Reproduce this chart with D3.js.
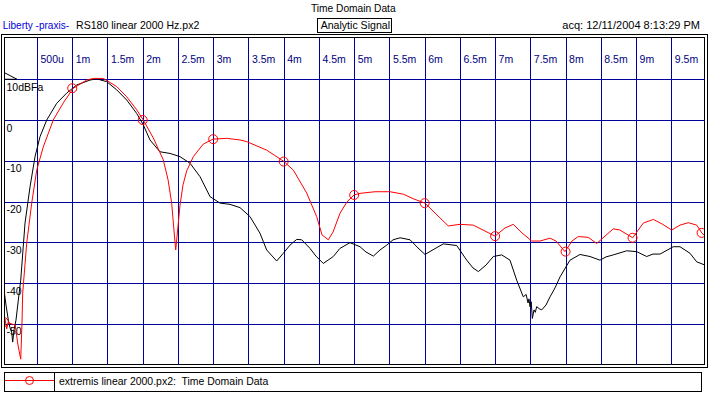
<!DOCTYPE html>
<html>
<head>
<meta charset="utf-8">
<script src="https://cdn.jsdelivr.net/npm/d3@7"></script>
<style>
  html, body { margin: 0; padding: 0; background: #ffffff; }
  svg { display: block; }
  text { font-family: "Liberation Sans", Arial, sans-serif; white-space: pre; }
</style>
</head>
<body>
<svg id="chart" width="709" height="395"></svg>
<script>
// ---------------- DATA ----------------
const xTickValues = [0.5, 1, 1.5, 2, 2.5, 3, 3.5, 4, 4.5, 5, 5.5, 6, 6.5, 7, 7.5, 8, 8.5, 9, 9.5];
const xTickLabels = ["500u", "1m", "1.5m", "2m", "2.5m", "3m", "3.5m", "4m", "4.5m", "5m", "5.5m", "6m", "6.5m", "7m", "7.5m", "8m", "8.5m", "9m", "9.5m"];
const yTickValues = [10, 0, -10, -20, -30, -40, -50];
const yTickLabels = ["10dBFa", "0", "-10", "-20", "-30", "-40", "-50"];

// red: extremis linear 2000.px2 (time in ms, level in dB)
const redT  = [0.022, 0.046, 0.070, 0.093, 0.13, 0.19, 0.23, 0.269, 0.287, 0.297, 0.354, 0.425, 0.496, 0.589, 0.731, 0.873, 1.015, 1.205, 1.299, 1.441, 1.631, 1.773, 1.915, 2.008, 2.150, 2.292, 2.36, 2.411, 2.437, 2.468, 2.493, 2.529, 2.572, 2.624, 2.718, 2.860, 2.997, 3.191, 3.380, 3.475, 3.759, 4.005, 4.137, 4.326, 4.468, 4.544, 4.633, 4.700, 4.799, 4.898, 4.998, 5.083, 5.296, 5.508, 5.697, 5.849, 6.005, 6.175, 6.336, 6.502, 6.690, 6.828, 6.998, 7.140, 7.258, 7.381, 7.519, 7.637, 7.779, 7.864, 7.991, 8.091, 8.180, 8.322, 8.441, 8.559, 8.677, 8.770, 8.952, 9.102, 9.244, 9.368, 9.505, 9.623, 9.741, 9.861, 9.932, 9.98];
const redDb = [-49.9, -48.8, -51.3, -49.6, -50.0, -50.3, -55.2, -58.7, -49.8, -42.5, -30.2, -20.4, -12.3, -6.6, 0.0, 4.2, 7.8, 9.8, 10.2, 10.2, 8.2, 5.7, 2.5, 0.0, -4.4, -9.8, -14.7, -20.4, -25.8, -31.9, -27.5, -20.9, -15.9, -12.5, -9.0, -5.9, -4.7, -4.5, -4.9, -5.3, -7.4, -10.2, -12.3, -17.9, -23.7, -28.2, -29.4, -27.5, -22.9, -20.1, -18.4, -18.0, -17.6, -17.6, -18.2, -19.4, -20.4, -23.3, -26.0, -25.6, -25.8, -27.0, -28.5, -26.5, -25.6, -27.7, -29.7, -29.7, -29.0, -29.7, -32.3, -29.7, -28.6, -28.8, -30.3, -28.5, -26.7, -27.0, -28.9, -25.3, -24.4, -25.5, -27.0, -25.8, -25.2, -25.8, -27.7, -28.5];
const redMarkT  = [0.03, 1.0, 2.0, 3.0, 4.0, 5.0, 6.0, 7.0, 8.0, 8.95, 9.93];
const redMarkDb = [-49.6, 7.8, 0.0, -4.7, -10.2, -18.4, -20.4, -28.5, -32.3, -28.9, -27.7];

// black: RS180 linear 2000 Hz.px2
const blackT  = [0.032, 0.06, 0.093, 0.117, 0.141, 0.155, 0.174, 0.202, 0.235, 0.269, 0.283, 0.330, 0.401, 0.472, 0.543, 0.638, 0.780, 0.921, 1.063, 1.252, 1.347, 1.489, 1.631, 1.773, 1.915, 2.008, 2.103, 2.245, 2.387, 2.529, 2.671, 2.813, 2.955, 3.097, 3.238, 3.380, 3.522, 3.664, 3.759, 3.901, 3.995, 4.09, 4.185, 4.256, 4.373, 4.458, 4.562, 4.704, 4.799, 4.941, 5.083, 5.168, 5.272, 5.367, 5.462, 5.552, 5.651, 5.793, 5.906, 6.005, 6.133, 6.265, 6.455, 6.597, 6.686, 6.762, 6.871, 6.975, 7.094, 7.211, 7.306, 7.400, 7.440, 7.467, 7.480, 7.495, 7.512, 7.528, 7.552, 7.570, 7.590, 7.625, 7.661, 7.722, 7.779, 7.850, 7.921, 8.062, 8.204, 8.346, 8.488, 8.573, 8.677, 8.867, 9.008, 9.150, 9.24, 9.340, 9.528, 9.623, 9.765, 9.860, 9.978];
const blackDb = [-41.7, -45.4, -49.1, -51.0, -52.0, -54.5, -51.5, -49.1, -44.2, -39.3, -36.1, -25.3, -16.4, -9.0, -4.1, 0.0, 4.1, 6.6, 8.6, 9.8, 10.1, 9.4, 7.4, 4.9, 1.6, -1.2, -4.9, -7.8, -8.2, -9.0, -10.6, -13.9, -18.8, -20.4, -20.7, -21.5, -23.7, -27.8, -31.9, -34.6, -32.7, -30.7, -29.3, -29.4, -31.5, -33.4, -35.2, -33.5, -31.5, -30.1, -31.1, -32.4, -33.4, -31.9, -30.7, -29.4, -28.9, -29.4, -31.4, -33.0, -31.7, -30.4, -30.8, -34.4, -36.3, -37.2, -35.6, -33.5, -33.1, -34.4, -39.3, -43.4, -42.8, -44.9, -43.9, -45.8, -44.6, -48.7, -46.6, -47.2, -45.8, -46.3, -46.6, -45.4, -43.4, -41.2, -38.5, -34.4, -33.0, -33.5, -34.4, -33.6, -33.1, -32.1, -32.3, -33.5, -32.9, -32.9, -31.1, -31.1, -32.7, -34.8, -35.6];

// ---------------- LAYOUT ----------------
const svg = d3.select("#chart");
const GRID = "#00009c";
const plot = { left: 4.5, top: 37.5, right: 704.5, bottom: 364.5 };

const x = d3.scaleLinear().domain([0, 10]).range([1.76, 706.56]);
const y = d3.scaleLinear().domain([-60, 20]).range([364.5, 38.5]);

// header texts
svg.append("text").attr("x", 353.3).attr("y", 12).attr("text-anchor", "middle")
  .attr("font-size", 11).attr("textLength", 84.7).attr("lengthAdjust", "spacingAndGlyphs")
  .attr("fill", "#000").text("Time Domain Data");
svg.append("rect").attr("x", 317.5).attr("y", 18.5).attr("width", 74).attr("height", 14)
  .attr("fill", "none").attr("stroke", "#000").attr("stroke-width", 1);
svg.append("text").attr("x", 320.7).attr("y", 29.3)
  .attr("font-size", 11).attr("textLength", 69.3).attr("lengthAdjust", "spacingAndGlyphs")
  .attr("fill", "#000").text("Analytic Signal");
svg.append("text").attr("x", 2.7).attr("y", 29.3)
  .attr("font-size", 11).attr("textLength", 66.3).attr("lengthAdjust", "spacingAndGlyphs")
  .attr("fill", "#0000e0").text("Liberty -praxis-");
svg.append("text").attr("x", 76).attr("y", 29.3)
  .attr("font-size", 11).attr("textLength", 123.3).attr("lengthAdjust", "spacingAndGlyphs")
  .attr("fill", "#000").text("RS180 linear 2000 Hz.px2");
svg.append("text").attr("x", 562.3).attr("y", 29.3)
  .attr("font-size", 11).attr("textLength", 137.7).attr("lengthAdjust", "spacingAndGlyphs")
  .attr("fill", "#000").text("acq: 12/11/2004 8:13:29 PM");

// frame (double border)
svg.append("rect").attr("x", 1.5).attr("y", 34.5).attr("width", 706).attr("height", 333)
  .attr("fill", "#fff").attr("stroke", "#000");
svg.append("rect").attr("x", plot.left).attr("y", plot.top)
  .attr("width", plot.right - plot.left).attr("height", plot.bottom - plot.top)
  .attr("fill", "#fff").attr("stroke", "#000");

// gridlines via axes
const xAxis = d3.axisBottom(x).tickValues(xTickValues)
  .tickSize(plot.bottom - plot.top).tickFormat((d, i) => xTickLabels[i]);
const gx = svg.append("g").attr("transform", `translate(0,${plot.top})`).call(xAxis);
gx.select(".domain").remove();
gx.selectAll(".tick line").attr("stroke", GRID).attr("shape-rendering", "crispEdges");
gx.selectAll(".tick text").attr("x", 3).attr("y", 25.5).attr("dy", null)
  .attr("text-anchor", "start").attr("fill", "#000080")
  .attr("font-size", 10.5).attr("font-family", "Liberation Sans, Arial, sans-serif");

const yAxis = d3.axisRight(y).tickValues(yTickValues)
  .tickSize(plot.right - plot.left).tickFormat((d, i) => yTickLabels[i]);
const gy = svg.append("g").attr("transform", `translate(${plot.left},0)`).call(yAxis);
gy.select(".domain").remove();
gy.selectAll(".tick line").attr("stroke", GRID).attr("shape-rendering", "crispEdges");
gy.selectAll(".tick text").attr("x", 2).attr("y", 11).attr("dy", null)
  .attr("text-anchor", "start").attr("fill", "#000")
  .attr("font-size", 10.5).attr("font-family", "Liberation Sans, Arial, sans-serif");

// clip for curves
svg.append("clipPath").attr("id", "clip").append("rect")
  .attr("x", plot.left + 0.5).attr("y", plot.top + 0.5)
  .attr("width", plot.right - plot.left - 1).attr("height", plot.bottom - plot.top - 1);
const curves = svg.append("g").attr("clip-path", "url(#clip)");

// reference level triangle
curves.append("path")
  .attr("d", `M${plot.left},${y(11.6)} L${plot.left + 12.5},${y(10)} L${plot.left},${y(10)}`)
  .attr("fill", "none").attr("stroke", "#000");

const line = d3.line().x(d => x(d[0])).y(d => y(d[1]));

const blackData = blackT.map((t, i) => [t, blackDb[i]]);
const redData = redT.map((t, i) => [t, redDb[i]]);

curves.append("path").datum(blackData).attr("d", line)
  .attr("fill", "none").attr("stroke", "#000").attr("stroke-width", 1);
curves.append("path").datum(redData).attr("d", line)
  .attr("fill", "none").attr("stroke", "#ff0000").attr("stroke-width", 1);
curves.selectAll("circle.mk").data(redMarkT.map((t, i) => [t, redMarkDb[i]]))
  .enter().append("circle").attr("class", "mk")
  .attr("cx", d => x(d[0])).attr("cy", d => y(d[1])).attr("r", 4.5)
  .attr("fill", "none").attr("stroke", "#ff0000");

// legend
const lg = svg.append("g");
lg.append("rect").attr("x", 4.5).attr("y", 372.5).attr("width", 697).attr("height", 19)
  .attr("fill", "#fff").attr("stroke", "#000");
lg.append("line").attr("x1", 54.5).attr("x2", 54.5).attr("y1", 372.5).attr("y2", 391.5)
  .attr("stroke", "#000");
lg.append("line").attr("x1", 5).attr("x2", 54).attr("y1", 380.5).attr("y2", 380.5)
  .attr("stroke", "#ff0000");
lg.append("circle").attr("cx", 29.5).attr("cy", 380.5).attr("r", 4)
  .attr("fill", "none").attr("stroke", "#ff0000");
lg.append("text").attr("x", 59).attr("y", 384.5).attr("font-size", 11)
  .attr("textLength", 209.3).attr("lengthAdjust", "spacingAndGlyphs")
  .attr("fill", "#000").text("extremis linear 2000.px2:\u00a0 Time Domain Data");
</script>
</body>
</html>
